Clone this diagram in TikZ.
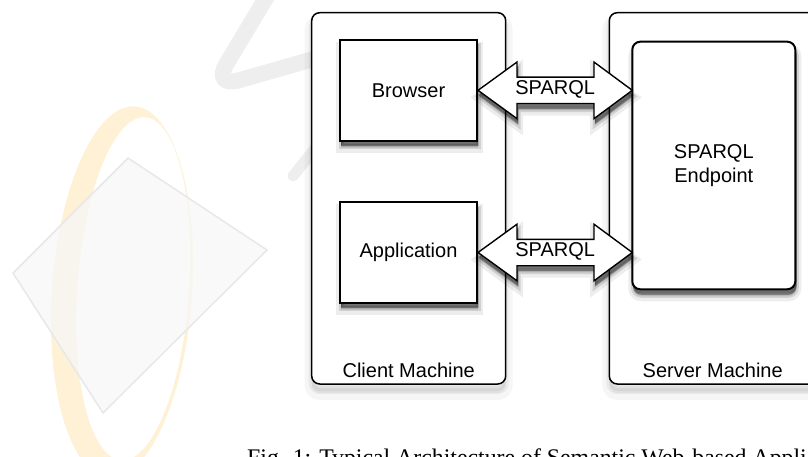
\documentclass[tikz,border=0pt]{standalone}
\usepackage{fontspec}
\setmainfont{Liberation Sans}
\newfontfamily\capfont{Liberation Serif}
\usetikzlibrary{calc}
\definecolor{wmorange}{RGB}{254,241,214}
\definecolor{wmgray}{RGB}{238,238,238}
\begin{document}
\begin{tikzpicture}[x=1pt,y=-1pt,
  lbl/.style={font=\fontsize{20}{24.4}\selectfont, inner sep=0pt, outer sep=0pt, align=center},
  shad/.style={
    preaction={draw=black, fill=black, line width=10pt, draw opacity=0.07, fill opacity=0.07, transform canvas={xshift=1pt,yshift=-7pt}},
    preaction={draw=black, fill=black, line width=5pt, draw opacity=0.12, fill opacity=0.12, transform canvas={xshift=1pt,yshift=-6pt}},
    preaction={draw=black, fill=black, line width=1pt, draw opacity=0.2, fill opacity=0.2, transform canvas={xshift=1pt,yshift=-5pt}},
    preaction={fill=black, fill opacity=0.3, transform canvas={xshift=1pt,yshift=-4pt}}},
  cshad/.style={
    preaction={draw=black, fill=black, line width=14pt, draw opacity=0.035, fill opacity=0.035, transform canvas={yshift=-9pt}},
    preaction={draw=black, fill=black, line width=6pt, draw opacity=0.05, fill opacity=0.05, transform canvas={yshift=-7pt}}},
  container/.style={draw=black, line width=1.5pt, rounded corners=8pt, fill=white, cshad, inner sep=0pt, outer sep=0pt},
  compbox/.style={draw=black, line width=2pt, fill=white, shad, inner sep=0pt, outer sep=0pt, lbl},
  endbox/.style={compbox, rounded corners=8pt},
  dblarrow/.style={draw=black, line width=1.4pt, fill=white, line join=miter, shad}
]
\useasboundingbox (0,0) rectangle (808,457);
\clip (0,0) rectangle (808,457);
% faint watermark
\fill[wmorange, even odd rule, rotate around={-4:(122,292)}]
  (122,292) ellipse [x radius=70, y radius=186]
  (133,288) ellipse [x radius=56, y radius=172];
\filldraw[fill=black!3, fill opacity=0.75, draw=black!9, line width=1.5pt]
  (128,158) -- (267,250) -- (103,413) -- (13,273) -- cycle;
\draw[wmgray, line width=16pt, rounded corners=28pt] (272,-12) -- (212,88) -- (345,50);
\draw[wmgray, line width=11pt, line cap=round] (293,176) -- (322,140);
% containers
\node[container, minimum width=194pt, minimum height=371.3pt] (client) at (408.7,198.35) {};
\node[container, minimum width=240pt, minimum height=371.3pt] (server) at (729.3,198.35) {};
\node[lbl] (clientlbl) at ($(client.south)+(0,-14)$) {Client Machine};
\node[lbl] (serverlbl) at (712.7,370) {Server Machine};
% components
\node[compbox, minimum width=137pt, minimum height=100.7pt] (browser) at (408.5,90.35) {Browser};
\node[compbox, minimum width=137pt, minimum height=100.4pt] (app) at (408.5,252.5) {Application};
\node[endbox, minimum width=163pt, minimum height=247.6pt] (endpoint) at (713.8,165.5) {SPARQL\\Endpoint};
% double arrows
\foreach \src/\nm in {browser/a, app/b}{
  \coordinate (\nm L) at ($(\src.east)+(1,0)$);
  \coordinate (\nm R) at (endpoint.west |- \src.east);
  \path[dblarrow] (\nm L) -- ($(\nm L)+(39,-28.3)$) -- ($(\nm L)+(39,-13.2)$)
    -- ($(\nm R)+(-38.3,-13.2)$) -- ($(\nm R)+(-38.3,-28.3)$) -- (\nm R)
    -- ($(\nm R)+(-38.3,28.3)$) -- ($(\nm R)+(-38.3,13.2)$)
    -- ($(\nm L)+(39,13.2)$) -- ($(\nm L)+(39,28.3)$) -- cycle;
  \node[lbl] (\nm lbl) at ($(\nm L)!0.5!(\nm R)+(0,-1)$) {SPARQL};
}
% caption (cut off by the page edge, as in the reference)
\node[anchor=base west, inner sep=0pt, font=\capfont\fontsize{23.8}{28}\selectfont] (caption) at (247,465.8) {Fig. 1: Typical Architecture of Semantic Web-based Appli};
\end{tikzpicture}
\end{document}
